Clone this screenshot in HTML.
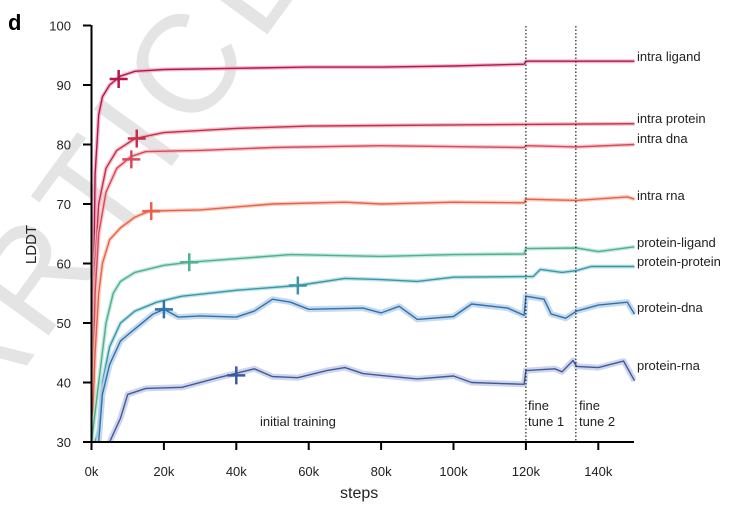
<!DOCTYPE html>
<html><head><meta charset="utf-8"><style>
html,body{margin:0;padding:0;background:#fff;}
svg{display:block;font-family:"Liberation Sans",sans-serif;}
</style></head><body>
<svg id="chart" width="743" height="510" viewBox="0 0 743 510">
<text x="-20" y="430" transform="rotate(-54 -20 430)" font-size="140" fill="#e4e4e4" letter-spacing="12">ARTICLE I</text>
<defs><clipPath id="pc"><rect x="91" y="20" width="545" height="422"/></clipPath></defs>
<g id="plot" clip-path="url(#pc)"></g>
<g id="axes"></g>
<g id="labels"></g>
</svg>
<script>
const seriesNames=["intra ligand","intra protein","intra dna","intra rna","protein-ligand","protein-protein","protein-dna","protein-rna"];
const xTicks=[0,20,40,60,80,100,120,140];
const xTickLabels=["0k","20k","40k","60k","80k","100k","120k","140k"];
const yTicks=[30,40,50,60,70,80,90,100];
const phaseLines=[120,133.8];
const s0x=[0,1,2,3,5,8,12,20,40,60,80,100,119.5,120,134,150];
const s0y=[30,75,85,88,90,91.5,92.3,92.6,92.8,93,93,93.2,93.5,94,94,94];
const s1x=[0,1,2,4,7,12,20,40,60,100,150];
const s1y=[30,60,70,76,79,81,82,82.7,83.1,83.3,83.5];
const s2x=[0,1,2,4,7,11,15,30,50,80,119.5,120,134,150];
const s2y=[30,55,65,72,76,78,78.8,79,79.5,79.8,79.5,79.8,79.6,80];
const s3x=[0,1,2,3,5,8,12,16,30,50,70,80,100,119.5,120,134,148,150];
const s3y=[30,45,55,60,64,66,67.8,68.8,69,70,70.3,70,70.3,70.2,70.8,70.6,71.2,70.8];
const s4x=[0,2,4,6,8,12,20,27,40,55,80,100,119.5,120,134,140,150];
const s4y=[30,40,50,55,57,58.5,59.7,60.2,60.8,61.5,61.2,61.5,61.6,62.5,62.6,62,62.8];
const s5x=[0,2,3,5,8,12,18,25,40,57,70,80,90,100,119.5,122,124,130,134,138,145,150];
const s5y=[28,32,40,46,50,52,53.5,54.5,55.5,56.3,57.5,57.3,57,57.7,57.8,57.8,59,58.5,58.8,59.5,59.5,59.5];
const s6x=[0,2,3,5,8,12,17,20,24,30,40,45,50,55,60,75,80,85,90,100,105,115,119.5,120,125,127,131,134,140,148,150];
const s6y=[28,30,38,43,47,49,51.5,52.3,51,51.2,51,52,54,53.5,52.3,52.5,51.7,52.8,50.6,51.1,53.2,52.5,51.3,54.5,54,51.5,50.8,52,53,53.5,51.5];
const s7x=[5,8,10,15,25,35,45,50,57,65,70,75,80,90,100,105,119.5,120,128,130,133,134,140,147,150];
const s7y=[30,34,38,39,39.2,40.8,42.3,41,40.8,42,42.5,41.5,41.2,40.6,41.1,40,39.7,42,42.3,41.8,43.7,42.7,42.5,43.6,40.3];
const seriesX=[s0x,s1x,s2x,s3x,s4x,s5x,s6x,s7x];
const seriesY=[s0y,s1y,s2y,s3y,s4y,s5y,s6y,s7y];
const markX=[7.5,12.5,11,16.5,27,57,20,40];
const markY=[91,81,77.5,68.8,60.2,56.3,52.3,41.2];
const labelY=[57,119,139,196,243,262,308,366];
const colors=["#b5174b","#c62f4a","#d8495a","#e8624a","#4fb092","#3a97a8","#2f72ad","#3e5a9d"];
const bands=["#f0a9bd","#f2b0bb","#f5b9bd","#f8c2b0","#b5e2d2","#b0dbe4","#b8cfe8","#c3cbe6"];
const X=v=>91.5+v*3.62;
const Y=v=>442-(v-30)*5.95;
const NS="http://www.w3.org/2000/svg";
function mk(t,a,p){const e=document.createElementNS(NS,t);for(const k in a)e.setAttribute(k,a[k]);p.appendChild(e);return e;}
const plot=document.getElementById('plot'),axes=document.getElementById('axes'),labels=document.getElementById('labels');
seriesNames.forEach((n,i)=>{
  const d=seriesX[i].map((x,j)=>(j?'L':'M')+X(x).toFixed(1)+','+Y(seriesY[i][j]).toFixed(1)).join('');
  const b=mk('path',{d:d,fill:'none',stroke:bands[i],'stroke-width':i>=6?6:4,'stroke-linejoin':'round',opacity:0.8},plot);
  
  
  const l=mk('path',{d:d,fill:'none',stroke:colors[i],'stroke-width':1.4,'stroke-linejoin':'round'},plot);
  
  
  const cx=X(markX[i]),cy=Y(markY[i]);
  const m=mk('path',{d:`M${cx-9},${cy}H${cx+9}M${cx},${cy-9}V${cy+9}`,stroke:colors[i],'stroke-width':2.5},plot);
  
  
  const t=mk('text',{x:637,y:labelY[i]+4,'font-size':13,fill:'#222'},labels);
  t.textContent=n;
  
  
});
phaseLines.forEach(v=>{
  const p=mk('line',{x1:X(v),x2:X(v),y1:26,y2:442,stroke:'#222','stroke-width':1.2,'stroke-dasharray':'1.5,2'},axes);
  
  
});
let a=mk('line',{x1:91.5,x2:91.5,y1:25,y2:443,stroke:'#000','stroke-width':2},axes);

a=mk('line',{x1:90.5,x2:634,y1:442,y2:442,stroke:'#000','stroke-width':2},axes);

yTicks.forEach(v=>{
  mk('line',{x1:83,x2:91,y1:Y(v),y2:Y(v),stroke:'#000','stroke-width':2},axes);
  const t=mk('text',{x:71,y:Y(v)+5,'font-size':13,'text-anchor':'end',fill:'#222'},axes);
  t.textContent=v;
  
  
});
xTicks.forEach((v,i)=>{
  mk('line',{x1:X(v),x2:X(v),y1:442,y2:450,stroke:'#000','stroke-width':2},axes);
  const t=mk('text',{x:X(v),y:476,'font-size':13,'text-anchor':'middle',fill:'#222'},axes);
  t.textContent=xTickLabels[i];
  
  
});
</script>
<div style="position:absolute;left:0;top:0;width:743px;height:510px;pointer-events:none;font-family:'Liberation Sans',sans-serif;color:#222;">
<div style="position:absolute;left:8px;top:10px;font-size:22px;font-weight:bold;color:#000;">d</div>
<div style="position:absolute;left:12px;top:236px;font-size:15px;transform:rotate(-90deg);">LDDT</div>
<div style="position:absolute;left:340px;top:485px;font-size:16px;">steps</div>
<div style="position:absolute;left:260px;top:414px;font-size:13px;">initial training</div>
<div style="position:absolute;left:528px;top:398px;font-size:13px;line-height:16px;">fine<br>tune 1</div>
<div style="position:absolute;left:579px;top:398px;font-size:13px;line-height:16px;">fine<br>tune 2</div>
</div>
</body></html>
